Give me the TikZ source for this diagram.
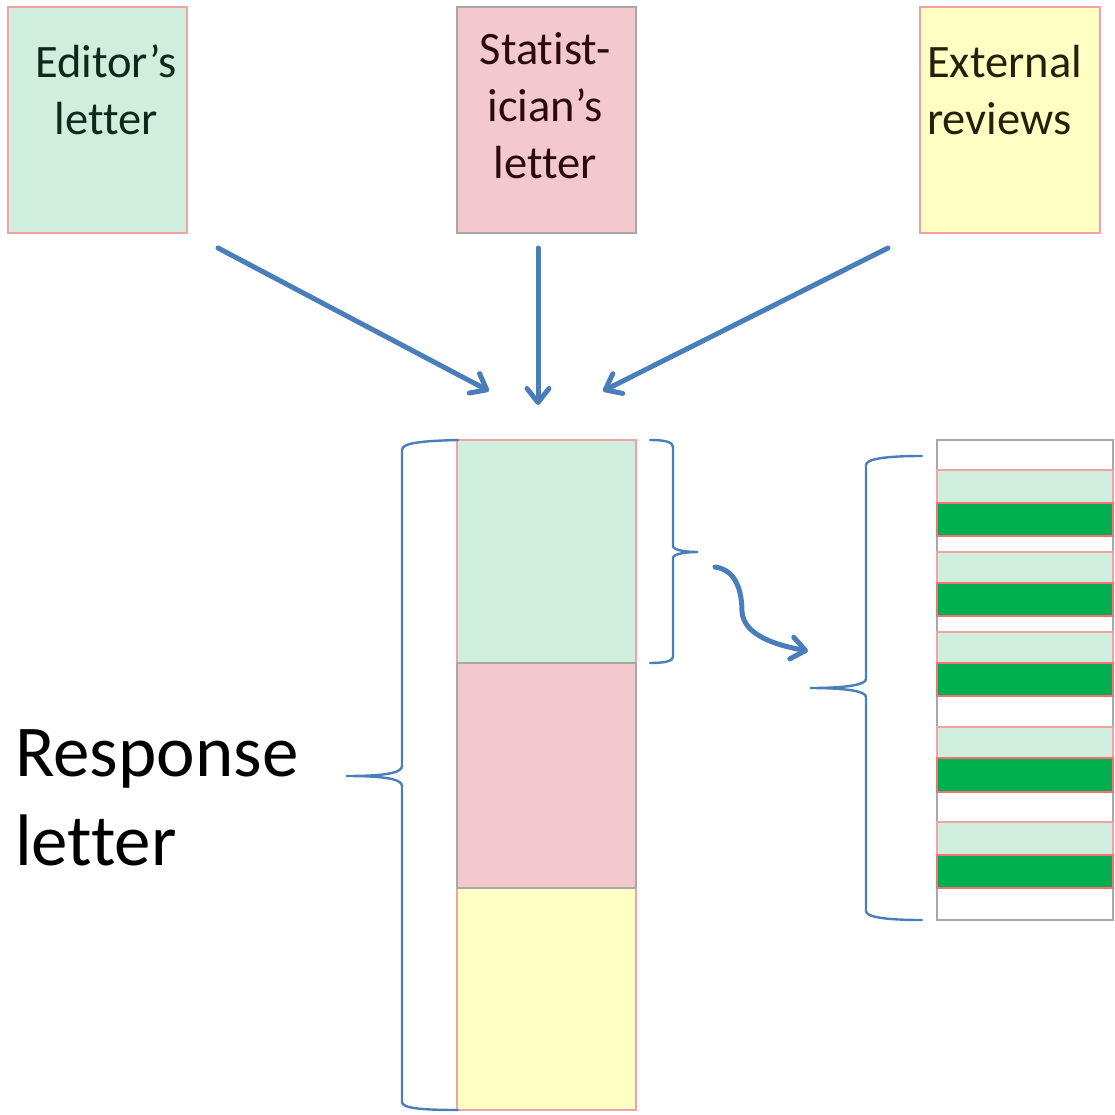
\documentclass[tikz,border=0pt]{standalone}
\usepackage{fontspec}
\setmainfont{Carlito}[Ligatures=NoCommon]
\usetikzlibrary{arrows.meta}
\definecolor{ablue}{HTML}{4A7EBB}
\definecolor{greenfill}{HTML}{CFEEDD}
\definecolor{pinkfill}{HTML}{F4C9CD}
\definecolor{yellowfill}{HTML}{FFFFC4}
\definecolor{pinkborder}{HTML}{F2A2A2}
\definecolor{grayborder}{HTML}{A8A8A8}
\definecolor{darkgreen}{HTML}{00B050}
\definecolor{txtgreen}{HTML}{0C2A1C}
\definecolor{txtred}{HTML}{2A0A0C}
\definecolor{txtyellow}{HTML}{22220A}
\tikzset{
  box/.style={rectangle, inner sep=0pt, outer sep=0pt, line width=2pt, anchor=north west},
  lbl/.style={inner sep=0pt, font=\fontsize{46.5}{57}\selectfont},
  bigl/.style={inner sep=0pt, font=\fontsize{73}{89}\selectfont, align=left},
  arr/.style={draw=ablue, line width=5pt, line cap=round, line join=round,
    -{Straight Barb[length=14pt, width=22pt, line cap=round, line join=round]}},
  brace/.style={draw=ablue, line width=2.4pt, line cap=round}
}
\begin{document}
\begin{tikzpicture}[x=1pt,y=-1pt]
\useasboundingbox (0,0) rectangle (1114,1115);
% top boxes
\node[box, fill=greenfill, draw=pinkborder, minimum width=179pt, minimum height=226pt] (ed) at (8,7) {};
\node[box, fill=pinkfill, draw=grayborder, minimum width=179pt, minimum height=226pt] (st) at (457,7) {};
\node[box, fill=yellowfill, draw=pinkborder, minimum width=180pt, minimum height=226pt] (ex) at (920,7) {};
\node[lbl, anchor=base, align=center, text=txtgreen] (edt) at (106,135) {Editor’s\\letter};
\node[lbl, anchor=base, align=center, text=txtred] (stt) at (545,179) {Statist-\\ician’s\\letter};
\node[lbl, anchor=base west, align=left, text=txtyellow] (ext) at (927,135) {External\\reviews};
% arrows
\coordinate (a1s) at (218,248); \coordinate (a1e) at (489,391);
\coordinate (a2s) at (538,248); \coordinate (a2e) at (538,405);
\coordinate (a3s) at (888,248); \coordinate (a3e) at (603,391);
\draw[arr] (a1s) -- (a1e);
\draw[arr] (a2s) -- (a2e);
\draw[arr] (a3s) -- (a3e);
% response column
\node[box, fill=greenfill, draw=pinkborder, minimum width=179pt, minimum height=223pt] (rg) at (457,440) {};
\node[box, fill=yellowfill, draw=pinkborder, minimum width=179pt, minimum height=222pt] (ry) at (457,888) {};
\node[box, fill=pinkfill, draw=grayborder, minimum width=179pt, minimum height=225pt] (rp) at (457,663) {};
% response label
\node[bigl, anchor=base west] (resp) at (15,865) {Response\\letter};
% left brace
\draw[brace] (458,440) .. controls (420,441) and (402,443) .. (402,450) -- (402,766)
  .. controls (402,773) and (385,776) .. (346,776)
  .. controls (385,776) and (402,779) .. (402,786) -- (402,1102)
  .. controls (402,1108) and (420,1110) .. (458,1110);
% brace next to green part
\draw[brace] (650,440) .. controls (665,440) and (673,442) .. (673,447) -- (673,546)
  .. controls (673,550) and (685,552) .. (698,552)
  .. controls (685,552) and (673,554) .. (673,558) -- (673,657)
  .. controls (673,661) and (665,663) .. (650,663);
% curved arrow
\coordinate (cs) at (715,567); \coordinate (ce) at (808,651);
\draw[arr] (cs) .. controls (738,570) and (742,595) .. (742,612)
  .. controls (744,635) and (775,645) .. (ce);
% right brace
\draw[brace] (922,456) .. controls (885,456) and (866,459) .. (866,465) -- (866,679)
  .. controls (866,685) and (845,688) .. (810,688)
  .. controls (845,688) and (866,691) .. (866,697) -- (866,911)
  .. controls (866,917) and (885,920) .. (922,920);
% right column
\node[box, fill=white, draw=grayborder, minimum width=176pt, minimum height=480pt] (rc) at (937,440) {};
\foreach \a/\b/\c [count=\i] in {470/503/536, 552/583/616, 632/663/696, 727/758/792, 822/855/888}{
  \node[box, fill=greenfill, draw=pinkborder, line width=1.5pt, minimum width=176pt, minimum height={(\b-\a)*1pt}] (l\i) at (937,\a) {};
  \node[box, fill=darkgreen, draw=pinkborder!70!red, line width=1.5pt, minimum width=176pt, minimum height={(\c-\b)*1pt}] (d\i) at (937,\b) {};
}
\end{tikzpicture}
\end{document}
